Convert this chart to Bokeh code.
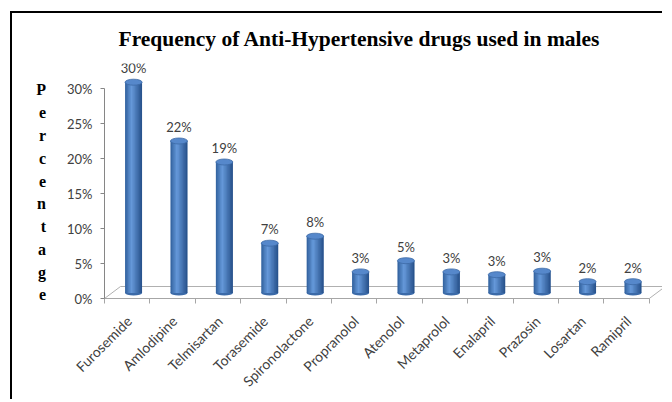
import math
from bokeh.plotting import figure
from bokeh.models import Range1d, FixedTicker, PrintfTickFormatter, ColumnDataSource
from bokeh.core.properties import value
from bokeh.embed import file_html
from bokeh.resources import INLINE

# ---- data ----
drugs = ["Furosemide", "Amlodipine", "Telmisartan", "Torasemide", "Spironolactone",
         "Propranolol", "Atenolol", "Metaprolol", "Enalapril", "Prazosin", "Losartan", "Ramipril"]
percent = [30.1, 21.7, 18.7, 7.1, 8.1, 3.0, 4.6, 3.0, 2.6, 3.1, 1.6, 1.6]
y_ticks = [0, 5, 10, 15, 20, 25, 30]
title_text = "Frequency of Anti-Hypertensive drugs used in males"
y_title = "Percentage"

# ---- geometry (styles) ----
PX_X = 45.4      # px per category
PX_Y = 7.0       # px per percent
DX = 16 / PX_X   # 3D depth offset x
DY = 12 / PX_Y   # 3D depth offset y
BASE = 0.8
SHIFT = 0.14
BW = 17 / PX_X

W, H = 652, 388
FL, FB, FT = 92, 285, 50
x0 = -0.5
x1 = x0 + (W - 2 - FL) / PX_X
y1 = (FB - FT) / PX_Y

p = figure(width=W, height=H, output_backend="svg", toolbar_location=None,
           x_range=Range1d(x0, x1), y_range=Range1d(0, y1),
           min_border_left=FL, min_border_right=2, min_border_top=FT,
           min_border_bottom=H - FB)
p.styles = {"border-left": "2px solid black", "border-top": "2px solid black",
            "margin-left": "10px", "margin-top": "11px"}
p.background_fill_color = "white"
p.border_fill_color = "white"
p.outline_line_color = None
p.xgrid.visible = False
p.ygrid.visible = False

# title
p.title.text = title_text
p.title.align = "left"
p.title.vertical_align = "top"
p.title.offset = 14
p.title.standoff = 22
p.title.text_line_height = 0.7
p.title.text_font = "Liberation Serif"
p.title.text_font_style = "bold"
p.title.text_font_size = "21.5px"
p.title.text_color = "black"

n = len(drugs)
# floor
p.patch([x0, n - 0.5, n - 0.5 + DX, x0 + DX], [0, 0, DY, DY],
        fill_color="white", line_color="#B0B0B0", line_width=1)

centers = [i + SHIFT for i in range(n)]
tops = [BASE + v for v in percent]

# bottom caps
p.ellipse(x=centers, y=[BASE] * n, width=BW, height=5, height_units="screen",
          fill_color="#3B6AA8", line_color=None)

# cylinder body as gradient strips
def lerp(c1, c2, t):
    a = [int(c1[i:i + 2], 16) for i in (1, 3, 5)]
    b = [int(c2[i:i + 2], 16) for i in (1, 3, 5)]
    return "#%02x%02x%02x" % tuple(round(a[k] + (b[k] - a[k]) * t) for k in range(3))

NS = 12
edge_l, light, edge_r = "#30609C", "#6699DA", "#254F88"
strip_cols = []
for k in range(NS):
    t = (k + 0.5) / NS
    if t < 0.38:
        strip_cols.append(lerp(edge_l, light, t / 0.38))
    else:
        strip_cols.append(lerp(light, edge_r, (t - 0.38) / 0.62))

sl, sr, stop, scol = [], [], [], []
s = BW / NS
for i in range(n):
    for k in range(NS):
        left = centers[i] - BW / 2 + k * s
        sl.append(left)
        sr.append(min(centers[i] + BW / 2, left + 1.8 * s))
        stop.append(tops[i])
        scol.append(strip_cols[k])
p.quad(left=sl, right=sr, top=stop, bottom=BASE, fill_color=scol, line_color=None)

# top caps
p.ellipse(x=centers, y=tops, width=BW, height=6, height_units="screen",
          fill_color="#5688CB", line_color="#3C69A6", line_width=0.8)

# value labels
src = ColumnDataSource(dict(x=centers, y=tops, t=[f"{round(v)}%" for v in percent]))
p.text(x="x", y="y", text="t", source=src, text_align="center", text_baseline="bottom",
       y_offset=-6, text_font=value("Lato"), text_font_size="13px", text_color="#404040")

# axes
LS = 0.04
xa = p.xaxis[0]
xa.ticker = FixedTicker(ticks=[i + LS for i in range(n)],
                        minor_ticks=[i - 0.5 for i in range(n + 1)])
xa.major_label_overrides = {i + LS: d for i, d in enumerate(drugs)}
xa.major_label_orientation = math.pi / 4
xa.major_tick_line_color = None
xa.major_tick_in = 0
xa.major_tick_out = 5
xa.minor_tick_in = 0
xa.minor_tick_out = 5
xa.minor_tick_line_color = "#A6A6A6"
xa.axis_line_color = "#A6A6A6"
xa.bounds = (x0, n - 0.5)
xa.major_label_text_font = "Lato"
xa.major_label_text_font_size = "14px"
xa.major_label_text_color = "#404040"
xa.major_label_standoff = 15

ya = p.yaxis[0]
ya.ticker = FixedTicker(ticks=y_ticks)
ya.formatter = PrintfTickFormatter(format="%d%%")
ya.bounds = (0, 30)
ya.minor_tick_line_color = None
ya.major_tick_in = 0
ya.major_tick_out = 4
ya.major_tick_line_color = "#868686"
ya.axis_line_color = "#868686"
ya.major_label_text_font = "Lato"
ya.major_label_text_font_size = "13px"
ya.major_label_text_color = "#404040"
ya.major_label_standoff = 8
ya.axis_label = "\n".join([" "] + list(y_title))
ya.axis_label_orientation = "horizontal"
ya.axis_label_text_font = "Liberation Serif"
ya.axis_label_text_font_style = "bold"
ya.axis_label_text_font_size = "16px"
ya.axis_label_text_color = "black"
ya.axis_label_text_line_height = 1.34
ya.axis_label_standoff = 18

open("out.html", "w").write(file_html(p, INLINE))
